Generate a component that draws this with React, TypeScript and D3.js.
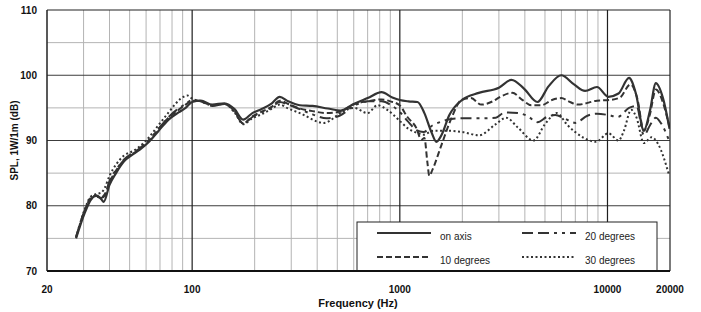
import * as d3 from "d3";

// frequency response, [Hz, dB SPL]
const onAxis: [number, number][] = [
  [27.6, 75.0], [30.4, 78.9], [32.5, 80.9], [34.5, 81.6], [36.5, 81.0], [37.5, 80.6], [40, 83.2], [43, 85.0],
  [47, 86.8], [52, 87.9], [56, 88.6], [62, 89.8], [69, 91.5], [77, 93.2], [86, 94.3], [93, 95.0], [100, 95.9],
  [110, 96.1], [125, 95.5], [143, 95.7], [160, 94.8], [176, 93.2], [195, 94.2], [215, 94.8], [240, 95.6],
  [264, 96.7], [290, 96.0], [330, 95.4], [380, 95.3], [450, 94.9], [520, 94.6], [600, 95.6], [700, 96.5],
  [817, 97.4], [920, 96.6], [1000, 96.2], [1100, 96.0], [1216, 95.9], [1313, 94.2], [1419, 91.3], [1500, 89.8],
  [1586, 90.8], [1732, 93.9], [1990, 96.2], [2400, 97.3], [3000, 98.1], [3450, 99.3], [3950, 98.0], [4600, 95.9],
  [5200, 98.3], [5990, 100.0], [6900, 98.6], [7800, 97.6], [8900, 98.2], [10100, 96.7], [11300, 97.2],
  [12700, 99.6], [13700, 97.2], [14970, 91.5], [16000, 94.5], [17100, 98.8], [18500, 96.5], [19900, 91.8],
];

const deg10: [number, number][] = [
  [27.6, 75.2], [30.4, 79.3], [32.5, 81.2], [34.5, 81.5], [36.5, 81.3], [38, 81.8], [40, 83.6], [43, 85.4],
  [47, 87.0], [52, 88.0], [56, 88.8], [62, 90.0], [69, 91.8], [77, 93.5], [86, 94.7], [93, 95.5], [100, 96.1],
  [110, 96.0], [125, 95.4], [143, 95.6], [160, 94.5], [176, 92.6], [195, 93.7], [215, 94.4], [240, 95.1],
  [264, 96.1], [290, 95.6], [330, 94.9], [380, 94.5], [444, 94.2], [513, 94.4], [606, 95.6], [700, 96.0],
  [817, 96.3], [900, 96.0], [997, 95.4], [1088, 93.6], [1202, 91.9], [1270, 90.1], [1313, 90.4], [1357, 86.7],
  [1387, 84.6], [1435, 85.5], [1586, 89.3], [1771, 93.4], [1978, 96.2], [2200, 96.5], [2469, 95.5], [2800, 96.0],
  [3013, 96.6], [3477, 97.3], [3900, 96.2], [4300, 95.4], [4800, 95.4], [5400, 96.2], [5990, 96.5], [6500, 96.0],
  [7200, 95.5], [8900, 96.1], [10170, 96.2], [11500, 96.6], [12900, 98.6], [13900, 96.5], [14970, 91.5],
  [16000, 94.0], [17100, 97.8], [18500, 95.8], [19800, 92.3],
];

const deg20: [number, number][] = [
  [27.6, 75.2], [30.4, 79.3], [32.5, 81.0], [34.5, 81.4], [36.5, 81.2], [38, 81.6], [40, 83.8], [43, 85.5],
  [47, 87.1], [52, 88.1], [56, 88.8], [62, 90.1], [69, 91.8], [77, 93.6], [86, 94.9], [93, 95.6], [100, 96.2],
  [110, 96.0], [125, 95.3], [143, 95.6], [160, 94.4], [176, 92.6], [195, 93.6], [215, 94.3], [240, 95.0],
  [264, 95.9], [290, 95.5], [330, 94.8], [380, 94.0], [444, 93.4], [513, 93.8], [600, 95.3], [700, 96.0],
  [817, 96.0], [920, 95.3], [997, 94.4], [1088, 93.0], [1202, 91.6], [1300, 91.3], [1435, 92.3], [1586, 92.9],
  [1771, 93.3], [2000, 93.4], [2400, 93.4], [2900, 93.5], [3200, 94.3], [3700, 94.2], [4100, 93.8], [4600, 92.8],
  [5100, 93.6], [5600, 93.9], [6200, 93.4], [7000, 92.7], [8000, 93.8], [8900, 94.1], [10100, 93.9],
  [11200, 93.6], [12700, 95.0], [13800, 95.3], [14970, 90.8], [16000, 92.3], [17100, 93.5], [18300, 92.4],
  [19800, 90.0],
];

const deg30: [number, number][] = [
  [29, 77.5], [30.4, 79.5], [32.5, 81.4], [34.5, 81.8], [36.5, 82.0], [38, 82.8], [40, 84.6], [43, 86.3],
  [47, 87.7], [52, 88.4], [56, 89.1], [62, 90.5], [69, 92.4], [77, 94.3], [83, 95.6], [88, 96.4], [95, 96.9],
  [100, 96.4], [110, 96.0], [125, 95.4], [143, 95.6], [160, 94.3], [176, 92.5], [195, 93.4], [215, 94.0],
  [240, 94.8], [264, 95.5], [290, 94.9], [330, 94.2], [430, 92.7], [530, 94.4], [600, 95.0], [700, 94.2],
  [780, 95.4], [870, 94.7], [1000, 93.0], [1100, 91.8], [1200, 91.2], [1300, 90.9], [1450, 91.5], [1700, 91.5],
  [2000, 91.3], [2400, 90.8], [2900, 92.5], [3250, 93.5], [3700, 92.0], [4400, 90.0], [5000, 92.5], [5700, 94.2],
  [6400, 92.4], [7700, 90.4], [8800, 89.8], [10100, 91.1], [11300, 90.0], [12000, 91.5], [13000, 94.7],
  [13800, 93.5], [14970, 89.6], [16300, 90.5], [17500, 89.5], [19800, 84.7],
];

const xTicks = [20, 100, 1000, 10000, 20000];
const yTicks = [70, 80, 90, 100, 110];
const seriesNames = ["on axis", "10 degrees", "20 degrees", "30 degrees"];

const W = 701;
const H = 312;
const m = { left: 47, right: 31, top: 10, bottom: 41 };

export default function App() {
  const x = d3.scaleLog().domain([20, 20000]).range([m.left, W - m.right]);
  const y = d3.scaleLinear().domain([70, 110]).range([H - m.bottom, m.top]);

  const line = d3
    .line<[number, number]>()
    .x((d) => x(d[0]))
    .y((d) => y(d[1]))
    .curve(d3.curveMonotoneX);

  // minor/major grid values
  const minorX: number[] = [];
  [10, 100, 1000, 10000].forEach((dec) => {
    for (let k = 2; k <= 9; k++) {
      const v = dec * k;
      if (v > 20 && v < 20000 && ![100, 1000, 10000].includes(v)) minorX.push(v);
    }
  });
  const majorX = [100, 1000, 10000];
  const minorY = [75, 85, 95, 105];
  const majorY = [80, 90, 100];

  const series = [
    { data: onAxis, dash: "none", w: 2.2 },
    { data: deg10, dash: "6,3", w: 2 },
    { data: deg20, dash: "11,5,11,5,3,5,3,5", w: 2 },
    { data: deg30, dash: "2,2.5", w: 2 },
  ];

  const x0 = m.left;
  const x1 = W - m.right;
  const y0 = H - m.bottom;
  const y1 = m.top;

  const lg = { x: 357, y: 222, w: 300, h: y0 - 222 };
  const legendPos = [
    { lx: 377, ly: 233 },
    { lx: 377, ly: 257 },
    { lx: 522, ly: 233 },
    { lx: 522, ly: 257 },
  ];

  return (
    <svg
      width={W}
      height={H}
      style={{ position: "absolute", left: 0, top: 0, background: "#fff" }}
      fontFamily="'Liberation Sans', Arial, sans-serif"
    >
      <defs>
        <clipPath id="plot">
          <rect x={x0} y={y1} width={x1 - x0} height={y0 - y1} />
        </clipPath>
      </defs>
      {minorY.map((v) => (
        <line key={"my" + v} x1={x0} x2={x1} y1={y(v)} y2={y(v)} stroke="#b4b4b4" strokeWidth={1} />
      ))}
      {minorX.map((v) => (
        <line key={"mx" + v} x1={x(v)} x2={x(v)} y1={y1} y2={y0} stroke="#b4b4b4" strokeWidth={1} />
      ))}
      {majorY.map((v) => (
        <line key={"My" + v} x1={x0} x2={x1} y1={y(v)} y2={y(v)} stroke="#3c3c3c" strokeWidth={1.2} />
      ))}
      {majorX.map((v) => (
        <line key={"Mx" + v} x1={x(v)} x2={x(v)} y1={y1} y2={y0} stroke="#1e1e1e" strokeWidth={1.2} />
      ))}

      <g clipPath="url(#plot)">
        {series.map((s, i) => (
          <path
            key={i}
            d={line(s.data) ?? ""}
            fill="none"
            stroke="#333"
            strokeWidth={s.w}
            strokeDasharray={s.dash}
            strokeLinejoin="round"
          />
        ))}
      </g>

      {/* legend */}
      <rect x={lg.x} y={lg.y} width={lg.w} height={lg.h} fill="#fff" stroke="#222" strokeWidth={1} />
      {series.map((s, i) => (
        <g key={"lg" + i}>
          <line
            x1={legendPos[i].lx}
            x2={legendPos[i].lx + 54}
            y1={legendPos[i].ly}
            y2={legendPos[i].ly}
            stroke="#333"
            strokeWidth={2}
            strokeDasharray={s.dash}
          />
          <text x={legendPos[i].lx + 63} y={legendPos[i].ly + 7} fontSize={10} fill="#222">
            {seriesNames[i]}
          </text>
        </g>
      ))}

      {/* frame */}
      <line x1={x0} x2={x1} y1={y1} y2={y1} stroke="#222" strokeWidth={1.2} />
      <line x1={x1} x2={x1} y1={y1} y2={y0} stroke="#222" strokeWidth={1.2} />
      <line x1={x0} x2={x0} y1={y1} y2={y0} stroke="#222" strokeWidth={1.5} />
      <line x1={x0} x2={x1} y1={y0} y2={y0} stroke="#111" strokeWidth={2} />

      {yTicks.map((v) => (
        <text key={"yt" + v} x={37} y={y(v) + 3.5} textAnchor="end" fontSize={10} fontWeight="bold" fill="#111">
          {v}
        </text>
      ))}
      {xTicks.map((v) => (
        <text key={"xt" + v} x={x(v)} y={293} textAnchor="middle" fontSize={10} fontWeight="bold" fill="#111">
          {v}
        </text>
      ))}
      <text x={358} y={307} textAnchor="middle" fontSize={11} fontWeight="bold" fill="#111">
        Frequency (Hz)
      </text>
      <text
        transform={`translate(18,${(y0 + y1) / 2}) rotate(-90)`}
        textAnchor="middle"
        fontSize={10}
        fontWeight="bold"
        fill="#111"
      >
        SPL, 1W/1m (dB)
      </text>
    </svg>
  );
}
